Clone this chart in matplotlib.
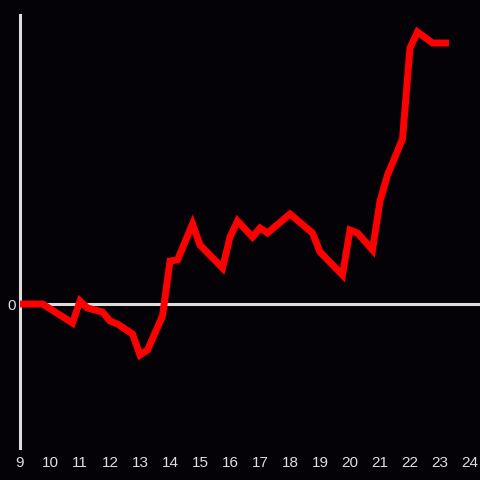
import matplotlib.pyplot as plt

# hours (quarter-hour steps) and value (zero line = 0)
hours = [9.0, 9.75, 10.75, 11.0, 11.25, 11.75, 12.0, 12.25, 12.75, 13.0, 13.25,
         13.75, 14.0, 14.25, 14.75, 15.0, 15.75, 16.0, 16.25, 16.75, 17.0, 17.25,
         18.0, 18.75, 19.0, 19.75, 20.0, 20.25, 20.75, 21.0, 21.25, 21.75, 22.0,
         22.25, 22.75, 23.3]
values = [0.0, 0.0, -1.9, 0.3, -0.4, -0.8, -1.7, -2.0, -3.0, -5.1, -4.6,
          -1.2, 4.3, 4.4, 8.0, 5.9, 3.6, 6.7, 8.3, 6.7, 7.6, 7.1,
          9.0, 7.1, 5.2, 2.9, 7.4, 7.1, 5.4, 10.3, 12.9, 16.5, 25.6,
          27.2, 26.1, 26.1]
xticks = list(range(9, 25))

bg = '#040206'
fg = '#dddddd'

fig = plt.figure(figsize=(4.8, 4.8), dpi=100, facecolor=bg)
ax = fig.add_axes([20 / 480, 32 / 480, 460 / 480, 433 / 480])
ax.set_facecolor(bg)

ax.axhline(0, color=fg, linewidth=2.2, zorder=1)
ax.plot(hours, values, color='#ff0000', linewidth=5, solid_joinstyle='miter',
        solid_capstyle='butt', zorder=3)

ax.set_xlim(9, 24 + 1 / 3)
ax.set_ylim(-14.4, 28.9)
ax.set_xticks(xticks)
ax.set_xticklabels([str(t) for t in xticks])
ax.set_yticks([0])
ax.set_yticklabels(['0'])

for s in ['top', 'right', 'bottom']:
    ax.spines[s].set_visible(False)
ax.spines['left'].set_color(fg)
ax.spines['left'].set_linewidth(2.2)

ax.tick_params(axis='both', length=0, colors=fg, labelsize=11)
ax.tick_params(axis='x', pad=6)
ax.tick_params(axis='y', pad=3)
for lab in ax.get_xticklabels() + ax.get_yticklabels():
    lab.set_fontfamily('Liberation Sans')

fig.savefig('out.png', dpi=100, facecolor=bg)
